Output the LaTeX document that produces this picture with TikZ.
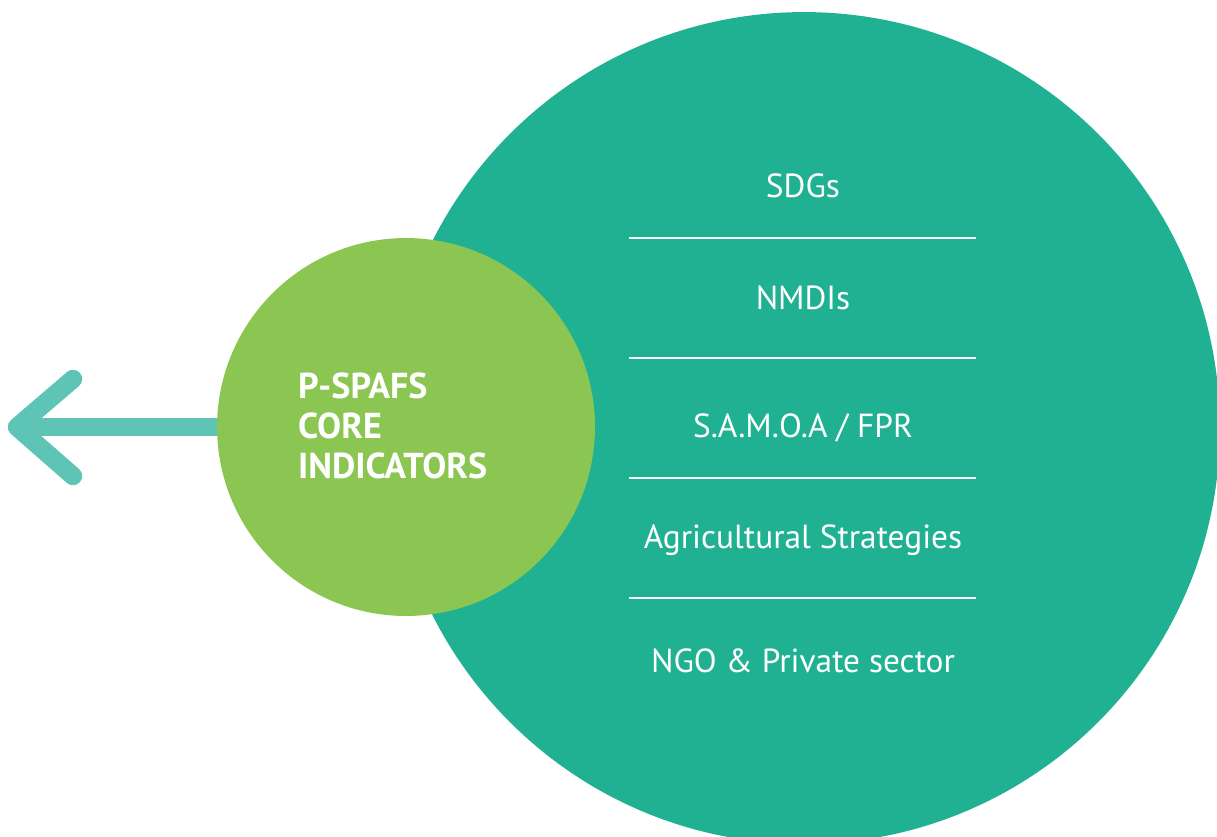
\documentclass[tikz,border=0pt]{standalone}
\usepackage{fontspec}
\setmainfont{PT Sans}
\usetikzlibrary{positioning}

\definecolor{sourceteal}{HTML}{20B192}
\definecolor{coregreen}{HTML}{8BC652}
\definecolor{arrowteal}{HTML}{5EC4B6}

\tikzstyle{source} = [align=center,text=white,font=\fontsize{19}{22}\selectfont]
\tikzstyle{core} = [align=left,text=white,font=\bfseries\fontsize{20.5}{22.7}\selectfont]
\tikzstyle{separator} = [draw=white,line width=0.8pt]
\tikzstyle{pointer} = [draw=arrowteal,line width=10.5pt,line cap=round,line join=round]

\begin{document}
\begin{tikzpicture}[x=0.02cm,y=-0.02cm]
	\useasboundingbox (0,0) rectangle (1217,836);
	\begin{scope}
		\clip (0,0) rectangle (1217,836);
		\node (sources) [circle,fill=sourceteal,minimum size=16.64cm,inner sep=0pt] at (804,428) {};
	\end{scope}
	\node (indicators) [circle,fill=coregreen,minimum size=7.56cm,inner sep=0pt] at (406,427) {};
	\node (label) [core,anchor=west] at (292,426) {P-SPAFS\\CORE\\INDICATORS};
	% sources
	\node (sdgs) [source] at (803,186) {SDGs};
	\node (nmdis) [source] at (803,298) {NMDIs};
	\node (samoa) [source] at (803,428) {S.A.M.O.A / FPR};
	\node (agri) [source] at (803,540) {Agricultural Strategies};
	\node (ngo) [source] at (803,661) {NGO \& Private sector};
	\foreach \y in {238,358,478,598}
		\draw [separator] (629,\y) -- (976,\y);
	% arrow
	\coordinate (tip) at (17,427);
	\draw [pointer,line cap=butt] (indicators.west) -- (tip);
	\draw [pointer] (73,379) -- (tip) -- (73,476);
\end{tikzpicture}
\end{document}
